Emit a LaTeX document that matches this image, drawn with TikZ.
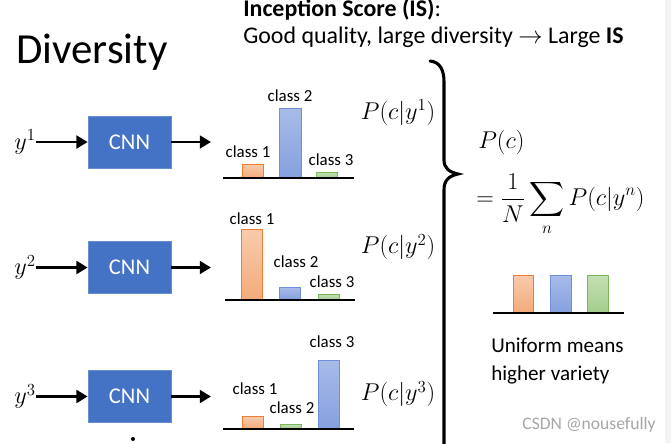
\documentclass[tikz,border=0pt]{standalone}
\usepackage{fontspec}
\setmainfont{Carlito}
\usepackage{amsmath}
\usetikzlibrary{arrows.meta,positioning,calc}

\definecolor{cnnblue}{HTML}{4472C4}
\definecolor{barorange}{HTML}{ED7D31}
\definecolor{barblue}{HTML}{6F8FD8}
\definecolor{bargreen}{HTML}{7CB85A}
\definecolor{sidegray}{HTML}{F3F3F5}

\begin{document}
\begin{tikzpicture}[x=0.025cm, y=-0.025cm, >={Triangle[length=8pt,width=9pt]},
    cnn/.style = {draw=cnnblue!80!white, fill=cnnblue, text=white, minimum width=2.075cm, minimum height=1.3cm, font=\fontsize{16}{18}\selectfont},
    flow/.style = {->, line width=2.1pt},
    axis/.style = {line width=2pt},
    lbl/.style = {inner sep=0pt, font=\fontsize{12}{14}\selectfont},
    prob/.style = {inner sep=0pt, font=\fontsize{18.5}{21}\selectfont},
    obar/.style = {draw=barorange, line width=0.7pt, top color=barorange!40, bottom color=barorange!65},
    bbar/.style = {draw=barblue, line width=0.7pt, top color=barblue!60, bottom color=barblue!85},
    gbar/.style = {draw=bargreen, line width=0.7pt, top color=bargreen!45, bottom color=bargreen!70}]
    \useasboundingbox (0,0) rectangle (671,443);
    \fill[sidegray] (665,0) rectangle (671,443);

    % Titles
    \node[anchor=west, inner sep=0pt, font=\fontsize{30.5}{34}\selectfont] (title) at (16,52) {Diversity};
    \node[anchor=west, inner sep=0pt, font=\fontsize{17}{20}\selectfont] (head) at (243,10) {\textbf{Inception Score (IS)}:};
    \node[anchor=west, inner sep=0pt, font=\fontsize{17}{20}\selectfont] (sub) at (243,37) {Good quality, large diversity $\rightarrow$ Large \textbf{IS}};

    % Nodes
    \node[cnn] (cnn1) at (129.5,142) {CNN};
    \node[cnn] (cnn2) at (129.5,267.5) {CNN};
    \node[cnn] (cnn3) at (129.5,396.5) {CNN};
    \node[prob, anchor=east] (y1) at (36,142) {$y^1$};
    \node[prob, anchor=east] (y2) at (36,267.5) {$y^2$};
    \node[prob, anchor=east] (y3) at (36,396.5) {$y^3$};
    \coordinate (out1) at (211,142);
    \coordinate (out2) at (211,267.5);
    \coordinate (out3) at (211,396.5);

    % Directed edges
    \draw[flow] (y1.east) -- (cnn1.west);
    \draw[flow] (y2.east) -- (cnn2.west);
    \draw[flow] (y3.east) -- (cnn3.west);
    \draw[flow] (cnn1.east) -- (out1);
    \draw[flow] (cnn2.east) -- (out2);
    \draw[flow] (cnn3.east) -- (out3);
    \fill (133,439) circle (2);

    % Distribution for y^1
    \draw[obar] (242,178) rectangle (263,164);
    \draw[bbar] (279,178) rectangle (301,108);
    \draw[gbar] (316,178) rectangle (337,172);
    \draw[axis] (223,178) -- (354,178);
    \node[lbl] (a1) at (248,152) {class 1};
    \node[lbl] (a2) at (290,96) {class 2};
    \node[lbl] (a3) at (331,160) {class 3};
    \node[prob] (p1) at (398,113) {$P(c|y^1)$};

    % Distribution for y^2
    \draw[obar] (241,300) rectangle (262,229);
    \draw[bbar] (279,300) rectangle (300,287);
    \draw[gbar] (318,300) rectangle (339,294);
    \draw[axis] (225,300) -- (355,300);
    \node[lbl] (b1) at (252,219) {class 1};
    \node[lbl] (b2) at (296,262) {class 2};
    \node[lbl] (b3) at (332,282) {class 3};
    \node[prob] (p2) at (398,247) {$P(c|y^2)$};

    % Distribution for y^3
    \draw[obar] (242,429) rectangle (263,416);
    \draw[gbar] (280,429) rectangle (301,424);
    \draw[bbar] (318,429) rectangle (339,360);
    \draw[axis] (223,429) -- (354,429);
    \node[lbl] (c1) at (255,389) {class 1};
    \node[lbl] (c2) at (292,408) {class 2};
    \node[lbl] (c3) at (332,342) {class 3};
    \node[prob] (p3) at (398,394) {$P(c|y^3)$};

    % Brace
    \draw[line width=2.2pt, line cap=round] (430,61) .. controls (440,62) and (444,70) .. (444,82) -- (444,160)
        .. controls (444,168) and (449,172) .. (458,174) .. controls (449,176) and (444,180) .. (444,190) -- (444,445);

    % Marginal distribution
    \node[prob, anchor=west] (pc) at (478,142) {$P(c)$};
    \node[prob, anchor=west] (avg) at (476,205) {$\displaystyle =\frac{1}{N}\sum_{n} P(c|y^n)$};
    \draw[obar] (513,313) rectangle (533,275);
    \draw[bbar] (550,313) rectangle (571,275);
    \draw[gbar] (587,313) rectangle (608,275);
    \draw[axis] (493,313) -- (624,313);
    \node[anchor=west, inner sep=0pt, align=left, font=\fontsize{15}{20}\selectfont] (uni) at (491,361) {Uniform means\\higher variety};

    % watermark
    \node[inner sep=0pt, text=gray!70, font=\fontsize{12.5}{14}\selectfont] (mark) at (589,425) {CSDN @nousefully};
\end{tikzpicture}
\end{document}
